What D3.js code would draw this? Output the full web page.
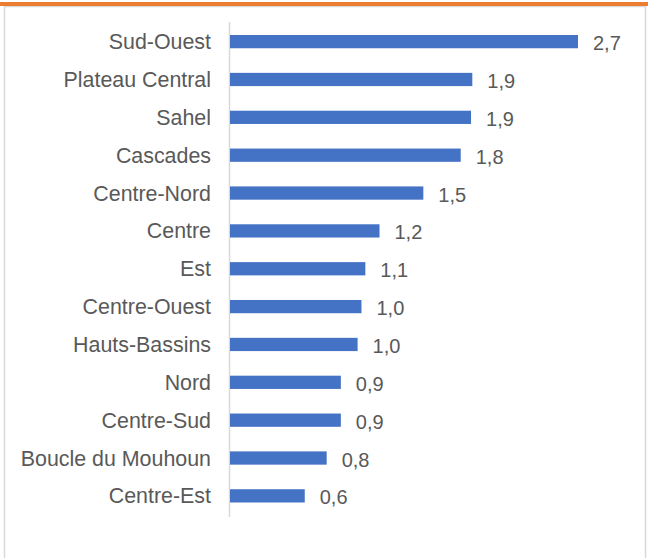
<!DOCTYPE html>
<html><head><meta charset="utf-8">
<script src="https://cdn.jsdelivr.net/npm/d3@7"></script>
<style>body{margin:0;background:#fff}svg{display:block}</style>
</head><body>
<svg id="c" width="648" height="558"></svg>
<script>
const categories = ["Sud-Ouest","Plateau Central","Sahel","Cascades","Centre-Nord","Centre","Est","Centre-Ouest","Hauts-Bassins","Nord","Centre-Sud","Boucle du Mouhoun","Centre-Est"];
const values = [2.7,1.88,1.87,1.79,1.5,1.16,1.05,1.02,0.99,0.86,0.86,0.75,0.58];

const svg = d3.select("#c");
const W = 648, H = 558;
// frame
svg.append("rect").attr("x",4.5).attr("y",6.5).attr("width",641).attr("height",560).attr("fill","#fff").attr("stroke","#d9d9d9").attr("stroke-width",1.5);
svg.append("rect").attr("x",0).attr("y",2).attr("width",W).attr("height",4).attr("fill","#ED7D31");

const x = d3.scaleLinear().domain([0,2.7]).range([230,578]);
const y = d3.scaleBand().domain(categories).range([22.7,514.8]).paddingInner(0.65).paddingOuter(0.325);

svg.append("line").attr("x1",229.5).attr("x2",229.5).attr("y1",22).attr("y2",517).attr("stroke","#d9d9d9").attr("stroke-width",1.5);

svg.selectAll("rect.bar").data(values).join("rect").attr("class","bar")
  .attr("x",x(0)).attr("y",(d,i)=>y(categories[i]))
  .attr("width",d=>x(d)-x(0)).attr("height",y.bandwidth()).attr("fill","#4472C4");

const fmt = v => (Math.round(v*10)/10).toFixed(1).replace(".",",");
svg.selectAll("text.val").data(values).join("text").attr("class","val")
  .attr("x",d=>x(d)+15).attr("y",(d,i)=>y(categories[i])+y.bandwidth()/2+1.5)
  .attr("dy","0.35em").attr("font-family","Liberation Sans, Arial, sans-serif")
  .attr("font-size",20).attr("fill","#595959").text(fmt);

svg.selectAll("text.cat").data(categories).join("text").attr("class","cat")
  .attr("x",211).attr("y",d=>y(d)+y.bandwidth()/2).attr("dy","0.35em")
  .attr("text-anchor","end").attr("font-family","Liberation Sans, Arial, sans-serif")
  .attr("font-size",21.4).attr("fill","#595959").text(d=>d);
</script>
</body></html>
